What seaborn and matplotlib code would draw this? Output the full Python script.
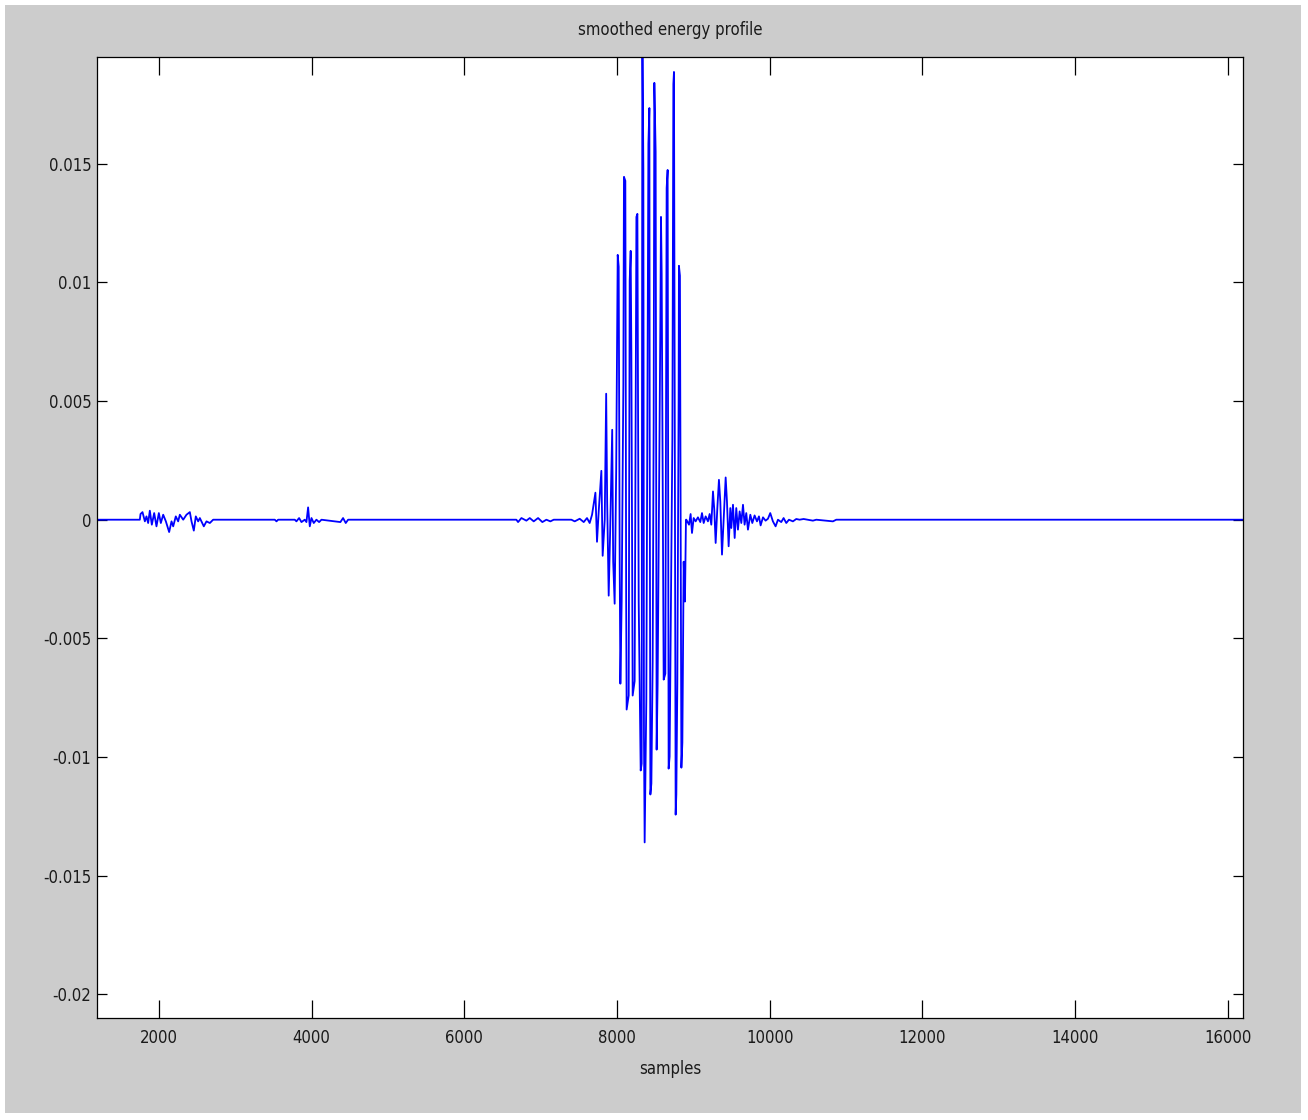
import numpy as np
import pandas as pd
import matplotlib
matplotlib.use("Agg")
import matplotlib.pyplot as plt
import seaborn as sns
from matplotlib.ticker import FuncFormatter, FixedLocator
from matplotlib.patches import Rectangle

# values (sample index, smoothed energy)
# first ripple near 2000 samples
ripple1_x = [1190, 1751, 1760, 1786, 1817, 1838, 1860, 1882, 1908, 1939, 1969,
             2000, 2026, 2057, 2092, 2135, 2166, 2188, 2222, 2253, 2275, 2319,
             2362, 2406, 2428, 2458, 2484, 2515, 2537, 2589, 2624, 2668, 2711]
ripple1_y = [0, 0, 0.00024, 0.00032, -0.00007, 0.00014, -0.00014, 0.00038,
             -0.00021, 0.00028, -0.00028, 0.00028, -0.00014, 0.00021, -0.00007,
             -0.00052, -0.00007, -0.00028, 0.00014, -0.00007, 0.00021, 0,
             0.00021, 0.00032, -0.00007, -0.00046, 0.00014, -0.00007, 0.00007,
             -0.00028, -0.00007, -0.00014, 0]

# small blip near 4000 samples
ripple2_x = [3519, 3541, 3562, 3781, 3802, 3837, 3868, 3911, 3933, 3955,
             3977, 3999, 4029, 4064, 4099, 4130, 4378, 4413, 4448, 4479]
ripple2_y = [0, -0.00007, 0, 0, -0.00007, 0.00007, -0.0001, 0, -0.0001, 0.00052,
             -0.00028, 0.00007, -0.00014, 0, -0.0001, 0, -0.0001, 0.00007, -0.00014, 0]

# low-level noise before the burst
ripple3_x = [6683, 6705, 6749, 6814, 6858, 6910, 6967, 7023, 7076, 7128,
             7172, 7403, 7447, 7512, 7565, 7608, 7643, 7674]
ripple3_y = [0, -0.0001, 0.00007, -0.00004, 0.00007, -0.00007, 0.00007, -0.0001,
             0, -0.00007, 0, 0, -0.00007, 0.00004, -0.0001, 0.00007, -0.00014, 0.00021]

# main burst 7700 - 8900
burst_x = [7718, 7739, 7761, 7796, 7813, 7840, 7859, 7872, 7892, 7911,
           7938, 7951, 7970, 7990, 8010, 8023, 8036, 8045, 8062, 8084,
           8092, 8110, 8121, 8127, 8154, 8167, 8180, 8189, 8206, 8232,
           8255, 8268, 8285, 8311, 8324, 8333, 8346, 8354, 8363, 8385,
           8412, 8425, 8429, 8438, 8451, 8468, 8481, 8490, 8507, 8520,
           8533, 8569, 8577, 8586, 8612, 8634, 8651, 8664, 8677, 8690,
           8726, 8739, 8747, 8769, 8778, 8791, 8808, 8812, 8825, 8844,
           8857, 8874, 8891, 8904]
burst_y = [0.00114, -0.00093, 0.00034, 0.00206, -0.00152, 0.0, 0.00531, 0.00076, -0.0032, -0.00051,
           0.00379, -0.00177, -0.00354, 0.00202, 0.01116, 0.01066, -0.00177, -0.00691, -0.00345, 0.00569,
           0.01445, 0.01428, -0.00345, -0.0080, -0.00741, 0.01007, 0.01133, 0.00703, -0.00741, -0.0068,
           0.01276, 0.01289, -0.00345, -0.01057, -0.01028, 0.0210, 0.01478, -0.00914, -0.0136, -0.00758,
           0.01584, 0.01735, 0.00379, -0.01158, -0.01112, -0.00598, 0.00409, 0.01841, 0.0155, -0.00969,
           -0.00695, 0.00847, 0.01276, 0.01036, -0.00674, -0.00649, 0.01398, 0.01474, -0.01049, -0.00998,
           0.00341, 0.01836, 0.01887, -0.01243, -0.01158, -0.00691, 0.00505, 0.0107, 0.01028, -0.01045,
           -0.00939, -0.00177, -0.00345, 0.0]

# decaying tail after the burst
tail_x = [8909, 8944, 8965, 8983, 9005, 9031, 9061, 9092, 9114, 9136,
          9162, 9192, 9214, 9236, 9258, 9275, 9293, 9315, 9336, 9354,
          9376, 9397, 9424, 9441, 9463, 9485, 9498, 9520, 9542, 9563,
          9585, 9607, 9629, 9651, 9672, 9694, 9716, 9747, 9773, 9803,
          9834, 9860, 9882, 9913, 9947, 9978, 10008, 10043, 10078, 10109,
          10152, 10183, 10218, 10253, 10305, 10349, 10392, 10445, 10567, 10611,
          10829, 10873, 16200]
tail_y = [0, -0.00021, 0.00024, -0.00056, 0.00007, -0.00007, 0.0001, -0.0001, 0.00028, -0.00014,
          0.00014, -0.00007, 0.00024, -0.00021, 0.00119, 0.00042, -0.00098, 0.00049, 0.00168, 0.00077,
          -0.00147, -0.00007, 0.00178, 0.00077, -0.00112, 0.00049, -0.00035, 0.00063, -0.00077, 0.00049,
          -0.00042, 0.00035, -0.00014, 0.00063, -0.00021, 0.00028, -0.00042, 0.00021, -0.00014, 0.00018,
          -0.00007, 0.00014, -0.00024, 0.0001, -0.00004, 0.00004, 0.00028, -0.00007, -0.00028, 0,
          -0.0001, 0.00007, -0.00014, 0, -0.00007, 0.00003, 0, 0.00003, -0.00004, 0,
          -0.00007, 0, 0]

x_ticks = [2000, 4000, 6000, 8000, 10000, 12000, 14000, 16000]
y_ticks = [-0.02, -0.015, -0.01, -0.005, 0, 0.005, 0.01, 0.015]

df = pd.DataFrame({
    'sample': ripple1_x + ripple2_x + ripple3_x + burst_x + tail_x,
    'energy': ripple1_y + ripple2_y + ripple3_y + burst_y + tail_y,
})

sns.set_style("white")
plt.rcParams['font.family'] = ['DejaVu Sans']
plt.rcParams['font.stretch'] = 'condensed'
plt.rcParams['axes.unicode_minus'] = False
plt.rcParams['text.color'] = 'black'

fig = plt.figure(figsize=(13.08, 11.2), dpi=100, facecolor='white')
# MATLAB-like grey figure area
fig.patches.append(Rectangle((5 / 1308, 1 - 1113 / 1120), 1296 / 1308, 1108 / 1120,
                             transform=fig.transFigure, facecolor='#cccccc',
                             edgecolor='none', zorder=-10))

ax = fig.add_axes([97 / 1308, 1 - 1018 / 1120, 1146 / 1308, 961 / 1120])
ax.set_facecolor('white')

sns.lineplot(data=df, x='sample', y='energy', sort=False, estimator=None,
             color='#0000ff', linewidth=1.3, ax=ax)

ax.set_xlim(1190, 16200)
ax.set_ylim(-0.021, 0.0195)
ax.xaxis.set_major_locator(FixedLocator(x_ticks))
ax.yaxis.set_major_locator(FixedLocator(y_ticks))
ax.xaxis.set_major_formatter(FuncFormatter(lambda v, p: f'{v:g}'))
ax.yaxis.set_major_formatter(FuncFormatter(lambda v, p: f'{v:g}'))

for s in ax.spines.values():
    s.set_color('black')
    s.set_linewidth(0.9)

ax.tick_params(axis='x', direction='in', length=13, width=0.9, top=True,
               bottom=True, labelsize=12, pad=8, colors='black', labelcolor='#1a1a1a')
ax.tick_params(axis='y', direction='in', length=7.5, width=0.9, left=True,
               right=True, labelsize=12, pad=4, colors='black', labelcolor='#1a1a1a')

ax.set_title('smoothed energy profile', fontsize=12, pad=16, color='#1a1a1a')
ax.set_xlabel('samples', fontsize=12, labelpad=9, color='#1a1a1a')
ax.set_ylabel('')

fig.savefig('out.png', dpi=100, facecolor=fig.get_facecolor())
